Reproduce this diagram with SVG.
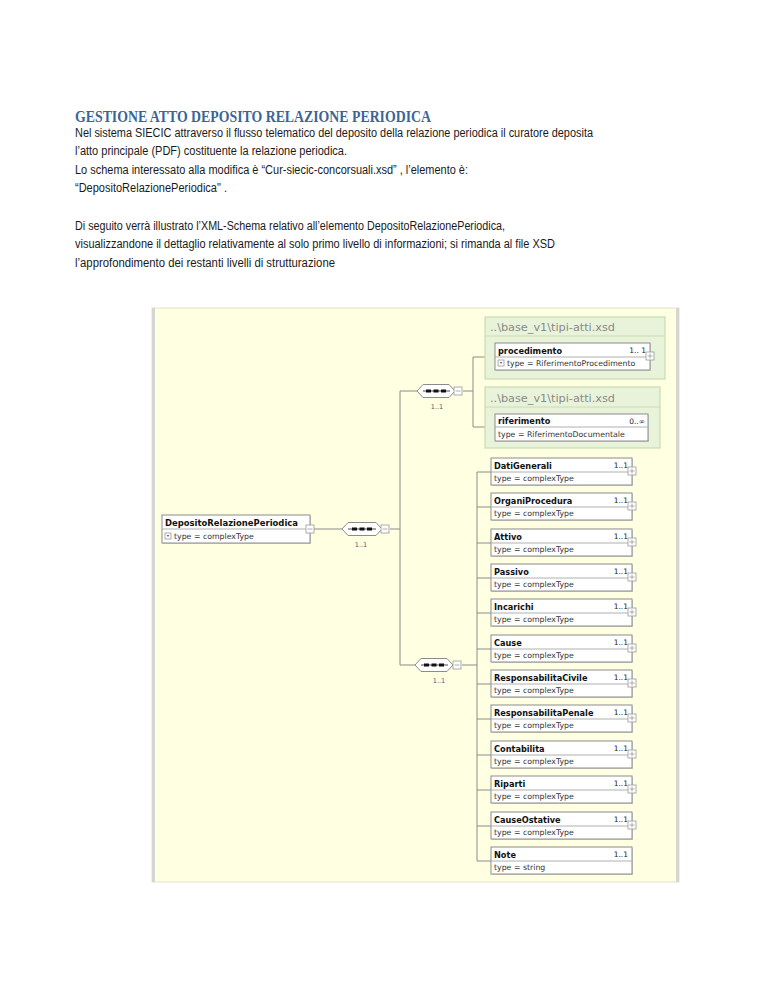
<svg xmlns="http://www.w3.org/2000/svg" width="768" height="994" viewBox="0 0 768 994">
<defs>
<style>
.body{font-family:"Liberation Sans","Noto Sans",sans-serif;font-size:12.5px;fill:#1a1a1a}
.title{font-family:"Liberation Serif","DejaVu Serif",serif;font-size:17.5px;font-weight:bold;fill:#3A6599}
.box{fill:#ffffff;stroke:#8c8c8c;stroke-width:1}
.shadow{fill:#d4d4c8}
.div{stroke:#b0b0b0;stroke-width:1}
.name{font-family:"DejaVu Sans",Verdana,sans-serif;font-size:8.2px;font-weight:bold;fill:#111}
.occ{font-family:"DejaVu Sans",Verdana,sans-serif;font-size:7.5px;fill:#222}
.type{font-family:"DejaVu Sans",Verdana,sans-serif;font-size:7.8px;fill:#333}
.lbl{font-family:"DejaVu Sans",Verdana,sans-serif;font-size:6.5px;fill:#555}
.hdr{font-family:"DejaVu Sans",Verdana,sans-serif;font-size:10.5px;fill:#8a8a8a}
.grp{fill:#E9F3D9;stroke:#C9DCB2;stroke-width:1.2}
.pm{fill:#ffffff;stroke:#9a9a9a;stroke-width:0.8}
.pmsign{stroke:#9a9a9a;stroke-width:0.8}
.conn{fill:none;stroke:#8c8c8c;stroke-width:1}
.comp{fill:#ffffff;stroke:#8c8c8c;stroke-width:1}
</style>
</defs>
<rect width="768" height="994" fill="#ffffff"/>

<g id="text">
<text class="title" x="75" y="122" textLength="356" lengthAdjust="spacingAndGlyphs">GESTIONE ATTO DEPOSITO RELAZIONE PERIODICA</text>
<text class="body" x="75" y="137" textLength="518" lengthAdjust="spacingAndGlyphs">Nel sistema SIECIC attraverso il  flusso telematico del deposito della relazione periodica il curatore deposita</text>
<text class="body" x="75" y="155" textLength="272" lengthAdjust="spacingAndGlyphs">l’atto principale (PDF) costituente la relazione periodica.</text>
<text class="body" x="75" y="174" textLength="393" lengthAdjust="spacingAndGlyphs">Lo schema interessato alla modifica è  “Cur-siecic-concorsuali.xsd” , l’elemento è:</text>
<text class="body" x="75" y="192" textLength="152" lengthAdjust="spacingAndGlyphs">“DepositoRelazionePeriodica" .</text>
<text class="body" x="75" y="230" textLength="430" lengthAdjust="spacingAndGlyphs">Di seguito verrà illustrato l’XML-Schema relativo all’elemento DepositoRelazionePeriodica,</text>
<text class="body" x="75" y="248" textLength="480" lengthAdjust="spacingAndGlyphs">visualizzandone il dettaglio relativamente al solo primo livello di informazioni; si rimanda al file XSD</text>
<text class="body" x="75" y="267" textLength="260" lengthAdjust="spacingAndGlyphs">l’approfondimento dei restanti livelli di strutturazione</text>
</g>

<g id="panel">
<rect x="152" y="308" width="527" height="574" fill="#FFFFE1" stroke="#E2E2CC" stroke-width="1"/>
<rect x="152" y="308" width="3" height="574" fill="#D6D6D0"/>
<rect x="676" y="308" width="3" height="574" fill="#D6D6D0"/>
</g>

<g id="connectors">
<path class="conn" d="M314 529 H342"/>
<path class="conn" d="M390 529 H400"/>
<path class="conn" d="M400 391 V665"/>
<path class="conn" d="M400 391 H417"/>
<path class="conn" d="M400 665 H415"/>
<path class="conn" d="M463 391 H473"/>
<path class="conn" d="M473 357 V427"/>
<path class="conn" d="M473 357 H495"/>
<path class="conn" d="M473 427 H495"/>
<path class="conn" d="M462 665 H477"/>
<path class="conn" d="M477 472 V861"/>
<path class="conn" d="M477 472 H491 M477 507 H491 M477 543 H491 M477 578 H491 M477 613 H491 M477 649 H491 M477 684 H491 M477 719 H491 M477 755 H491 M477 790 H491 M477 826 H491 M477 861 H491"/>
</g>

<g id="root-DepositoRelazionePeriodica">
<rect class="shadow" x="163" y="516" width="148" height="28"/>
<rect class="box" x="162" y="515" width="148" height="28"/>
<line class="div" x1="162" y1="529" x2="310" y2="529"/>
<text class="name" x="165" y="525.5" textLength="133" lengthAdjust="spacingAndGlyphs">DepositoRelazionePeriodica</text>
<rect class="pm" x="165" y="533" width="6" height="6"/>
<path d="M166.5 535 L168 537 L169.5 535 Z" fill="#777"/>
<text class="type" x="174" y="539">type = complexType</text>
<rect class="pm" x="306" y="525" width="8" height="8"/>
<line class="pmsign" x1="307.5" y1="529" x2="312.5" y2="529"/>
</g>

<g id="seq-main">
<path class="comp" d="M342 529 L348 522.5 L376 522.5 L382 529 L376 535.5 L348 535.5 Z"/>
<line x1="348" y1="529" x2="376" y2="529" stroke="#222" stroke-width="0.8"/>
<rect x="352" y="527.5" width="5" height="3" fill="#111"/>
<rect x="359.5" y="527.5" width="5" height="3" fill="#111"/>
<rect x="367" y="527.5" width="5" height="3" fill="#111"/>
<rect class="pm" x="381" y="525" width="8" height="8"/>
<line class="pmsign" x1="382.5" y1="529" x2="387.5" y2="529"/>
<text class="lbl" x="361" y="547" text-anchor="middle">1..1</text>
</g>

<g id="seq-top">
<path class="comp" d="M417 391 L423 384.5 L449 384.5 L455 391 L449 397.5 L423 397.5 Z"/>
<line x1="423" y1="391" x2="450" y2="391" stroke="#222" stroke-width="0.8"/>
<rect x="426" y="389.5" width="5" height="3" fill="#111"/>
<rect x="433.5" y="389.5" width="5" height="3" fill="#111"/>
<rect x="441" y="389.5" width="5" height="3" fill="#111"/>
<rect class="pm" x="454" y="387" width="8" height="8"/>
<line class="pmsign" x1="455.5" y1="391" x2="460.5" y2="391"/>
<text class="lbl" x="437" y="409" text-anchor="middle">1..1</text>
</g>

<g id="seq-bottom">
<path class="comp" d="M415 665 L421 658.5 L447 658.5 L453 665 L447 671.5 L421 671.5 Z"/>
<line x1="421" y1="665" x2="448" y2="665" stroke="#222" stroke-width="0.8"/>
<rect x="424" y="663.5" width="5" height="3" fill="#111"/>
<rect x="431.5" y="663.5" width="5" height="3" fill="#111"/>
<rect x="439" y="663.5" width="5" height="3" fill="#111"/>
<rect class="pm" x="453" y="661" width="8" height="8"/>
<line class="pmsign" x1="454.5" y1="665" x2="459.5" y2="665"/>
<text class="lbl" x="439" y="683" text-anchor="middle">1..1</text>
</g>

<g id="group-procedimento">
<rect class="grp" x="485" y="317" width="180" height="62"/>
<line x1="485" y1="336" x2="665" y2="336" stroke="#C9DCB2" stroke-width="1"/>
<text class="hdr" x="490" y="331" textLength="125" lengthAdjust="spacingAndGlyphs">..\base_v1\tipi-atti.xsd</text>
<rect class="shadow" x="496" y="344" width="155" height="27"/>
<rect class="box" x="495" y="343" width="155" height="27"/>
<line class="div" x1="495" y1="357" x2="650" y2="357"/>
<text class="name" x="498" y="353.5">procedimento</text>
<text class="occ" x="646" y="353" text-anchor="end">1.. 1</text>
<rect class="pm" x="498" y="360" width="6" height="6"/>
<path d="M499.5 362 L501 364 L502.5 362 Z" fill="#777"/>
<text class="type" x="507" y="366">type = RiferimentoProcedimento</text>
<rect class="pm" x="646" y="352" width="8" height="8"/>
<line class="pmsign" x1="647.5" y1="356" x2="652.5" y2="356"/>
<line class="pmsign" x1="650" y1="353.5" x2="650" y2="358.5"/>
</g>

<g id="group-riferimento">
<rect class="grp" x="485" y="387" width="175" height="61"/>
<line x1="485" y1="407" x2="660" y2="407" stroke="#C9DCB2" stroke-width="1"/>
<text class="hdr" x="490" y="402" textLength="125" lengthAdjust="spacingAndGlyphs">..\base_v1\tipi-atti.xsd</text>
<rect class="shadow" x="496" y="415" width="153" height="27"/>
<rect class="box" x="495" y="414" width="153" height="27"/>
<line class="div" x1="495" y1="427" x2="648" y2="427"/>
<text class="name" x="498" y="424">riferimento</text>
<text class="occ" x="645" y="424" text-anchor="end">0..∞</text>
<text class="type" x="498" y="437">type = RiferimentoDocumentale</text>
</g>

<g id="el-DatiGenerali" transform="translate(491,458)">
<rect class="shadow" x="1" y="1" width="141" height="27"/><rect class="box" width="141" height="27"/><line class="div" x1="0" y1="14" x2="141" y2="14"/>
<text class="name" x="3" y="10.5">DatiGenerali</text><text class="occ" x="137" y="10" text-anchor="end">1..1</text>
<text class="type" x="3" y="23">type = complexType</text>
<rect class="pm" x="137" y="9" width="8" height="8"/><path class="pmsign" d="M138.5 13 H143.5 M141 10.5 V15.5"/>
</g>
<g id="el-OrganiProcedura" transform="translate(491,493)">
<rect class="shadow" x="1" y="1" width="141" height="27"/><rect class="box" width="141" height="27"/><line class="div" x1="0" y1="14" x2="141" y2="14"/>
<text class="name" x="3" y="10.5">OrganiProcedura</text><text class="occ" x="137" y="10" text-anchor="end">1..1</text>
<text class="type" x="3" y="23">type = complexType</text>
<rect class="pm" x="137" y="9" width="8" height="8"/><path class="pmsign" d="M138.5 13 H143.5 M141 10.5 V15.5"/>
</g>
<g id="el-Attivo" transform="translate(491,529)">
<rect class="shadow" x="1" y="1" width="141" height="27"/><rect class="box" width="141" height="27"/><line class="div" x1="0" y1="14" x2="141" y2="14"/>
<text class="name" x="3" y="10.5">Attivo</text><text class="occ" x="137" y="10" text-anchor="end">1..1</text>
<text class="type" x="3" y="23">type = complexType</text>
<rect class="pm" x="137" y="9" width="8" height="8"/><path class="pmsign" d="M138.5 13 H143.5 M141 10.5 V15.5"/>
</g>
<g id="el-Passivo" transform="translate(491,564)">
<rect class="shadow" x="1" y="1" width="141" height="27"/><rect class="box" width="141" height="27"/><line class="div" x1="0" y1="14" x2="141" y2="14"/>
<text class="name" x="3" y="10.5">Passivo</text><text class="occ" x="137" y="10" text-anchor="end">1..1</text>
<text class="type" x="3" y="23">type = complexType</text>
<rect class="pm" x="137" y="9" width="8" height="8"/><path class="pmsign" d="M138.5 13 H143.5 M141 10.5 V15.5"/>
</g>
<g id="el-Incarichi" transform="translate(491,599)">
<rect class="shadow" x="1" y="1" width="141" height="27"/><rect class="box" width="141" height="27"/><line class="div" x1="0" y1="14" x2="141" y2="14"/>
<text class="name" x="3" y="10.5">Incarichi</text><text class="occ" x="137" y="10" text-anchor="end">1..1</text>
<text class="type" x="3" y="23">type = complexType</text>
<rect class="pm" x="137" y="9" width="8" height="8"/><path class="pmsign" d="M138.5 13 H143.5 M141 10.5 V15.5"/>
</g>
<g id="el-Cause" transform="translate(491,635)">
<rect class="shadow" x="1" y="1" width="141" height="27"/><rect class="box" width="141" height="27"/><line class="div" x1="0" y1="14" x2="141" y2="14"/>
<text class="name" x="3" y="10.5">Cause</text><text class="occ" x="137" y="10" text-anchor="end">1..1</text>
<text class="type" x="3" y="23">type = complexType</text>
<rect class="pm" x="137" y="9" width="8" height="8"/><path class="pmsign" d="M138.5 13 H143.5 M141 10.5 V15.5"/>
</g>
<g id="el-ResponsabilitaCivile" transform="translate(491,670)">
<rect class="shadow" x="1" y="1" width="141" height="27"/><rect class="box" width="141" height="27"/><line class="div" x1="0" y1="14" x2="141" y2="14"/>
<text class="name" x="3" y="10.5">ResponsabilitaCivile</text><text class="occ" x="137" y="10" text-anchor="end">1..1</text>
<text class="type" x="3" y="23">type = complexType</text>
<rect class="pm" x="137" y="9" width="8" height="8"/><path class="pmsign" d="M138.5 13 H143.5 M141 10.5 V15.5"/>
</g>
<g id="el-ResponsabilitaPenale" transform="translate(491,705)">
<rect class="shadow" x="1" y="1" width="141" height="27"/><rect class="box" width="141" height="27"/><line class="div" x1="0" y1="14" x2="141" y2="14"/>
<text class="name" x="3" y="10.5">ResponsabilitaPenale</text><text class="occ" x="137" y="10" text-anchor="end">1..1</text>
<text class="type" x="3" y="23">type = complexType</text>
<rect class="pm" x="137" y="9" width="8" height="8"/><path class="pmsign" d="M138.5 13 H143.5 M141 10.5 V15.5"/>
</g>
<g id="el-Contabilita" transform="translate(491,741)">
<rect class="shadow" x="1" y="1" width="141" height="27"/><rect class="box" width="141" height="27"/><line class="div" x1="0" y1="14" x2="141" y2="14"/>
<text class="name" x="3" y="10.5">Contabilita</text><text class="occ" x="137" y="10" text-anchor="end">1..1</text>
<text class="type" x="3" y="23">type = complexType</text>
<rect class="pm" x="137" y="9" width="8" height="8"/><path class="pmsign" d="M138.5 13 H143.5 M141 10.5 V15.5"/>
</g>
<g id="el-Riparti" transform="translate(491,776)">
<rect class="shadow" x="1" y="1" width="141" height="27"/><rect class="box" width="141" height="27"/><line class="div" x1="0" y1="14" x2="141" y2="14"/>
<text class="name" x="3" y="10.5">Riparti</text><text class="occ" x="137" y="10" text-anchor="end">1..1</text>
<text class="type" x="3" y="23">type = complexType</text>
<rect class="pm" x="137" y="9" width="8" height="8"/><path class="pmsign" d="M138.5 13 H143.5 M141 10.5 V15.5"/>
</g>
<g id="el-CauseOstative" transform="translate(491,812)">
<rect class="shadow" x="1" y="1" width="141" height="27"/><rect class="box" width="141" height="27"/><line class="div" x1="0" y1="14" x2="141" y2="14"/>
<text class="name" x="3" y="10.5">CauseOstative</text><text class="occ" x="137" y="10" text-anchor="end">1..1</text>
<text class="type" x="3" y="23">type = complexType</text>
<rect class="pm" x="137" y="9" width="8" height="8"/><path class="pmsign" d="M138.5 13 H143.5 M141 10.5 V15.5"/>
</g>
<g id="el-Note" transform="translate(491,847)">
<rect class="shadow" x="1" y="1" width="141" height="27"/><rect class="box" width="141" height="27"/><line class="div" x1="0" y1="14" x2="141" y2="14"/>
<text class="name" x="3" y="10.5">Note</text><text class="occ" x="137" y="10" text-anchor="end">1..1</text>
<text class="type" x="3" y="23">type = string</text>
</g>
</svg>
